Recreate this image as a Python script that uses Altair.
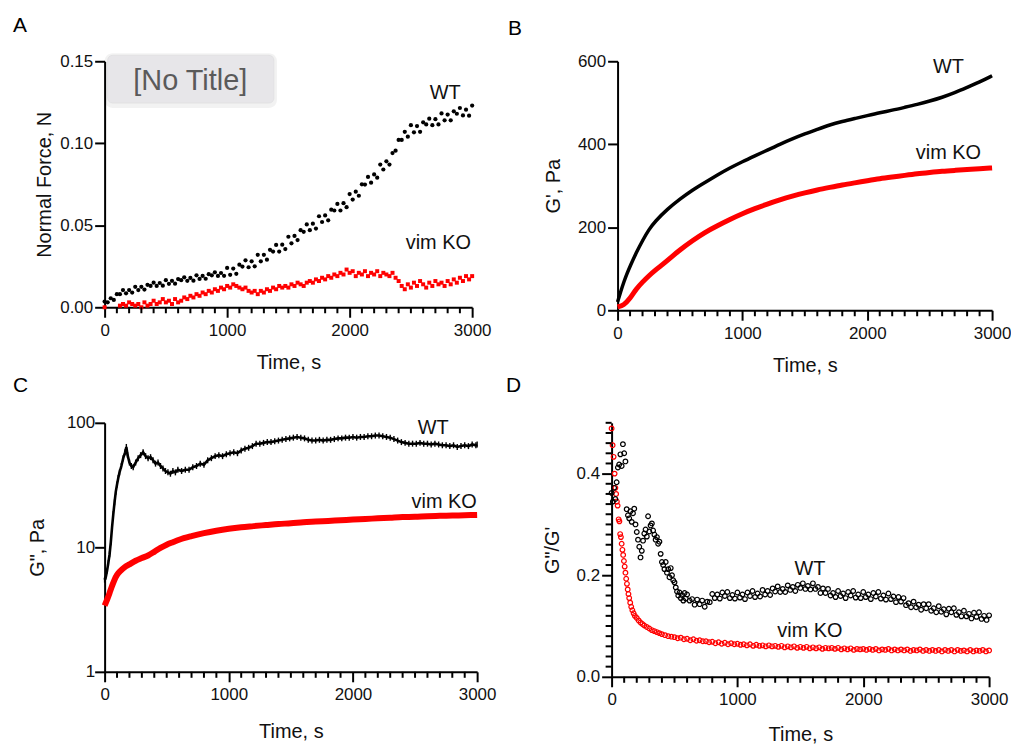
import altair as alt
import pandas as pd

FONT = "Liberation Sans"
RED = "#ff0000"
BLACK = "#000000"

# ---------------- Panel A : Normal force (N) ----------------
A_T = list(range(0, 3001, 25))
A_WT = [
    0.0035, 0.0030, 0.0055, 0.0045, 0.0080, 0.0080, 0.0105, 0.0085, 0.0105, 0.0090,
    0.0125, 0.0105, 0.0125, 0.0108, 0.0137, 0.0130, 0.0150, 0.0130, 0.0148, 0.0132,
    0.0165, 0.0143, 0.0161, 0.0144, 0.0172, 0.0165, 0.0183, 0.0161, 0.0179, 0.0162,
    0.0195, 0.0173, 0.0191, 0.0174, 0.0202, 0.0195, 0.0213, 0.0191, 0.0209, 0.0192,
    0.0240, 0.0198, 0.0236, 0.0204, 0.0260, 0.0248, 0.0286, 0.0244, 0.0280, 0.0250,
    0.0320, 0.0280, 0.0320, 0.0290, 0.0350, 0.0340, 0.0380, 0.0340, 0.0382, 0.0355,
    0.0430, 0.0390, 0.0435, 0.0410, 0.0470, 0.0460, 0.0505, 0.0470, 0.0510, 0.0480,
    0.0555, 0.0520, 0.0560, 0.0530, 0.0595, 0.0590, 0.0630, 0.0590, 0.0635, 0.0610,
    0.0690, 0.0657, 0.0705, 0.0680, 0.0750, 0.0748, 0.0795, 0.0760, 0.0810, 0.0790,
    0.0870, 0.0840, 0.0890, 0.0870, 0.0940, 0.0955, 0.1020, 0.1020, 0.1070, 0.1040,
    0.1110, 0.1067, 0.1105, 0.1070, 0.1128, 0.1115, 0.1150, 0.1110, 0.1147, 0.1115,
    0.1182, 0.1140, 0.1175, 0.1140, 0.1195, 0.1180, 0.1215, 0.1170, 0.1205, 0.1168,
    0.1230,
]
A_KO = [
    0.000, None, None, None, None, 0.001, 0.002, 0.001, 0.003, 0.002,
    0.001, 0.002, 0.000, 0.003, 0.001, 0.002, 0.004, 0.002, 0.003, 0.005,
    0.003, 0.004, 0.002, 0.005, 0.003, 0.004, 0.006, 0.005, 0.007, 0.006,
    0.008, 0.007, 0.009, 0.008, 0.010, 0.009, 0.011, 0.010, 0.012, 0.011,
    0.013, 0.012, 0.014, 0.013, 0.012, 0.011, 0.012, 0.010, 0.009, 0.010,
    0.008, 0.010, 0.009, 0.011, 0.010, 0.012, 0.011, 0.013, 0.012, 0.013,
    0.012, 0.014, 0.013, 0.015, 0.014, 0.013, 0.015, 0.016, 0.015, 0.017,
    0.016, 0.018, 0.017, 0.019, 0.018, 0.020, 0.019, 0.021, 0.020, 0.023,
    0.021, 0.022, 0.019, 0.021, 0.020, 0.022, 0.019, 0.021, 0.020, 0.022,
    0.019, 0.021, 0.020, 0.019, 0.021, 0.018, 0.016, 0.013, 0.011, 0.014,
    0.012, 0.015, 0.013, 0.016, 0.014, 0.012, 0.015, 0.013, 0.016, 0.014,
    0.015, 0.013, 0.016, 0.014, 0.017, 0.015, 0.018, 0.016, 0.019, 0.017,
    0.019,
]

# ---------------- Panel B : G' (Pa) ----------------
B_WT = [(0, 20), (25, 45), (50, 68), (75, 88), (100, 106), (150, 139), (200, 168),
        (250, 194), (300, 214), (400, 244), (500, 268), (600, 290), (700, 308),
        (800, 326), (900, 343), (1000, 358), (1100, 372), (1200, 386), (1300, 400),
        (1400, 413), (1500, 425), (1600, 436), (1700, 447), (1800, 455), (1900, 462),
        (2000, 469), (2100, 476), (2200, 482), (2300, 489), (2400, 496), (2500, 504),
        (2600, 513), (2700, 524), (2800, 537), (2900, 550), (3000, 565)]
B_KO = [(0, 8), (50, 12), (100, 28), (150, 52), (200, 68), (250, 83), (300, 96),
        (400, 120), (500, 146), (600, 168), (700, 188), (800, 204), (900, 219),
        (1000, 233), (1100, 245), (1200, 256), (1300, 266), (1400, 275), (1500, 283),
        (1600, 290), (1700, 296), (1800, 302), (1900, 307), (2000, 312), (2100, 317),
        (2200, 321), (2300, 325), (2400, 329), (2500, 332), (2600, 335), (2700, 337),
        (2800, 339), (2900, 341), (3000, 343)]

# ---------------- Panel C : G'' (Pa), log ----------------
C_WT = [(0, 5.5), (10, 5.8), (20, 6.5), (30, 7.5), (40, 8.8), (50, 11), (60, 14.5),
        (70, 18.5), (80, 23), (90, 28), (100, 32), (110, 36), (120, 40), (135, 45),
        (150, 52), (165, 58), (175, 64), (185, 55), (200, 48), (215, 45), (230, 44),
        (250, 48), (270, 52), (290, 55), (310, 58), (330, 54), (350, 52), (370, 53),
        (390, 50), (410, 47), (430, 48), (450, 45), (470, 43), (490, 41), (510, 40),
        (530, 39), (550, 41), (570, 40), (590, 42), (620, 41), (650, 42), (680, 42),
        (710, 44), (740, 45), (770, 47), (800, 46), (830, 50), (860, 52), (890, 54),
        (920, 55), (950, 54), (980, 56), (1010, 57), (1040, 58), (1070, 57), (1100, 60),
        (1130, 62), (1160, 63), (1190, 65), (1220, 68), (1250, 68), (1280, 69),
        (1310, 70), (1340, 70), (1370, 71), (1400, 72), (1430, 73), (1460, 74),
        (1490, 75), (1520, 76), (1550, 77), (1580, 76), (1610, 75), (1640, 73),
        (1670, 72), (1700, 72), (1730, 73), (1760, 72), (1790, 73), (1820, 73),
        (1850, 74), (1880, 75), (1910, 75), (1940, 76), (1970, 76), (2000, 77),
        (2030, 76), (2060, 77), (2090, 77), (2120, 78), (2150, 78), (2180, 79),
        (2210, 79), (2240, 78), (2270, 77), (2300, 76), (2330, 74), (2360, 72),
        (2390, 70), (2420, 69), (2450, 68), (2480, 68), (2510, 68), (2540, 69),
        (2570, 68), (2600, 68), (2630, 67), (2660, 68), (2690, 67), (2720, 66),
        (2750, 66), (2780, 65), (2810, 66), (2840, 64), (2870, 65), (2900, 66),
        (2930, 65), (2960, 67), (2990, 66), (3000, 67)]
C_KO = [(0, 3.4), (20, 3.8), (40, 4.3), (60, 4.9), (80, 5.5), (100, 6.0), (130, 6.5),
        (160, 6.9), (200, 7.3), (250, 7.8), (300, 8.2), (350, 8.6), (400, 9.2),
        (450, 9.9), (500, 10.5), (550, 11.0), (600, 11.5), (700, 12.3), (800, 13.0),
        (900, 13.6), (1000, 14.1), (1100, 14.5), (1200, 14.8), (1300, 15.1),
        (1400, 15.4), (1500, 15.6), (1600, 15.9), (1700, 16.1), (1800, 16.3),
        (1900, 16.5), (2000, 16.7), (2100, 16.9), (2200, 17.1), (2300, 17.3),
        (2400, 17.5), (2500, 17.6), (2600, 17.8), (2700, 17.9), (2800, 18.0),
        (2900, 18.1), (3000, 18.2)]

# ---------------- Panel D : G''/G' ----------------
D_WT_T = list(range(0, 600, 10)) + list(range(600, 3001, 20))
D_WT = [
    0.362, 0.345, 0.372, 0.350, 0.383, 0.412, 0.418, 0.438, 0.415, 0.458,
    0.440, 0.424, 0.330, 0.318, 0.312, 0.326, 0.305, 0.322, 0.331, 0.300,
    0.285, 0.270, 0.256, 0.235, 0.248, 0.268, 0.282, 0.290, 0.276, 0.316,
    0.286, 0.298, 0.302, 0.288, 0.280, 0.270, 0.275, 0.262, 0.266, 0.242,
    0.226, 0.220, 0.212, 0.226, 0.205, 0.212, 0.196, 0.214, 0.200, 0.190,
    0.186, 0.176, 0.168, 0.160, 0.166, 0.155, 0.161, 0.150, 0.165, 0.154,
    0.162, 0.150, 0.153, 0.142, 0.152, 0.143, 0.150, 0.138, 0.148, 0.147,
    0.163, 0.155, 0.162, 0.154, 0.166, 0.159, 0.167, 0.155, 0.161, 0.154,
    0.166, 0.156, 0.162, 0.153, 0.166, 0.159, 0.169, 0.157, 0.164, 0.158,
    0.171, 0.162, 0.169, 0.161, 0.174, 0.168, 0.178, 0.167, 0.173, 0.167,
    0.180, 0.171, 0.177, 0.169, 0.181, 0.175, 0.184, 0.173, 0.179, 0.172,
    0.184, 0.173, 0.177, 0.165, 0.174, 0.165, 0.173, 0.160, 0.165, 0.157,
    0.169, 0.159, 0.164, 0.155, 0.167, 0.160, 0.169, 0.156, 0.162, 0.155,
    0.167, 0.157, 0.162, 0.153, 0.165, 0.158, 0.167, 0.154, 0.160, 0.152,
    0.164, 0.153, 0.158, 0.147, 0.157, 0.148, 0.155, 0.141, 0.145, 0.137,
    0.148, 0.137, 0.142, 0.132, 0.143, 0.135, 0.143, 0.130, 0.135, 0.127,
    0.139, 0.128, 0.133, 0.123, 0.134, 0.127, 0.135, 0.122, 0.127, 0.119,
    0.130, 0.119, 0.124, 0.115, 0.126, 0.118, 0.127, 0.114, 0.120, 0.112,
    0.121,
]
D_KO_T = [0, 8, 16, 24, 30, 36, 42, 48, 56, 62,
          68, 74, 80, 86, 92, 98, 104, 110, 116, 122,
          128, 134, 140, 148, 156, 165, 175, 185, 200, 215,
          230, 245, 260, 280, 300, 320, 340, 360, 380, 400,
          425, 450, 475] + list(range(500, 3001, 25))
D_KO = [
    0.489, 0.456, 0.433, 0.400, 0.372, 0.360, 0.345, 0.337, 0.310, 0.306,
    0.281, 0.275, 0.262, 0.250, 0.240, 0.228, 0.217, 0.205, 0.193, 0.183,
    0.172, 0.163, 0.155, 0.146, 0.138, 0.131, 0.125, 0.120, 0.116, 0.111,
    0.107, 0.104, 0.101, 0.098, 0.095, 0.092, 0.090, 0.088, 0.086, 0.084,
    0.082, 0.080, 0.079,
    0.078, 0.076, 0.077, 0.074, 0.075, 0.072, 0.074, 0.071, 0.072, 0.070,
    0.070, 0.068, 0.069, 0.066, 0.068, 0.065, 0.067, 0.064, 0.066, 0.064,
    0.065, 0.063, 0.064, 0.062, 0.064, 0.061, 0.063, 0.061, 0.062, 0.060,
    0.062, 0.060, 0.061, 0.059, 0.061, 0.058, 0.060, 0.058, 0.060, 0.057,
    0.059, 0.057, 0.059, 0.056, 0.058, 0.056, 0.058, 0.055, 0.057, 0.056,
    0.057, 0.055, 0.057, 0.054, 0.056, 0.054, 0.056, 0.053, 0.055, 0.054,
    0.055, 0.053, 0.055, 0.053, 0.055, 0.052, 0.054, 0.053, 0.055, 0.052,
    0.054, 0.052, 0.054, 0.052, 0.054, 0.051, 0.053, 0.052, 0.054, 0.051,
    0.053, 0.051, 0.053, 0.051, 0.053, 0.050, 0.053, 0.051, 0.053, 0.050,
    0.053, 0.051, 0.052, 0.050, 0.053, 0.050, 0.052, 0.051, 0.053, 0.050,
    0.052,
]

# annotation labels (data coordinates)
A_LABELS = [("WT", 2780, 0.1306), ("vim KO", 2724, 0.0389)]
B_LABELS = [("WT", 2650, 585), ("vim KO", 2650, 379)]
C_LABELS = [("WT", 2646, 91), ("vim KO", 2735, 23.3)]
D_LABELS = [("WT", 1576, 0.212), ("vim KO", 1576, 0.090)]

# axis tick values
X_MAJOR = [0, 1000, 2000, 3000]
X_MINOR = [v for v in range(0, 3001, 100) if v % 1000 != 0]
D_MAJOR = [0.0, 0.2, 0.4]
D_MINOR = [round(i * 0.02, 2) for i in range(26) if i % 10 != 0]


def frame(ts, vs):
    return pd.DataFrame([{"t": t, "v": v} for t, v in zip(ts, vs)])


def pairs(p):
    return pd.DataFrame([{"t": t, "v": v} for t, v in p])


def labels_df(lst):
    return pd.DataFrame([{"label": s, "t": t, "v": v} for s, t, v in lst])


def xs():
    return alt.Scale(domain=[0, 3000], nice=False, zero=False)


def x_major(title_pad):
    return alt.X("t:Q", scale=xs(), axis=alt.Axis(
        title="Time, s", values=X_MAJOR, format="d", orient="bottom",
        tickSize=10, labelPadding=5, titlePadding=title_pad, labelFlush=False))


def x_none():
    return alt.X("t:Q", scale=xs(), axis=None)


def y_major(scale, title, values, fmt, title_x, h, label_pad=2):
    return alt.Y("v:Q", scale=scale, axis=alt.Axis(
        title=title, values=values, format=fmt, orient="left", tickSize=10,
        labelPadding=label_pad, titleX=title_x, titleY=h / 2,
        titleBaseline="middle", titleAngle=270))


def x_minor_ticks(h):
    # short ticks every 100 s under the x axis line, placed through the x scale
    return alt.Chart(pd.DataFrame({"t": X_MINOR})).mark_rule(
        color=BLACK, strokeWidth=2
    ).encode(x=x_none(), y=alt.value(h), y2=alt.value(h + 6))


def text_layer(df, scale):
    return alt.Chart(df).mark_text(font=FONT, fontSize=20, color="#111111",
                                   align="center", baseline="middle").encode(
        x=x_none(),
        y=alt.Y("v:Q", scale=scale, axis=None),
        text="label:N",
    )


def letter(ch, dx, dy):
    return alt.Chart(alt.Data(values=[{}])).mark_text(
        text=ch, font=FONT, fontSize=21, color="#000000", align="left", baseline="top"
    ).encode(x=alt.value(dx), y=alt.value(dy))


# ---------- A ----------
HA, WA = 247, 369
ya_scale = alt.Scale(domain=[0, 0.15], nice=False)
a_wt = alt.Chart(frame(A_T, A_WT)).mark_circle(size=18, color=BLACK, opacity=1).encode(
    x=x_major(14),
    y=y_major(ya_scale, "Normal Force, N", [0, 0.05, 0.1, 0.15], ".2f", -60, HA))
a_ko = alt.Chart(frame(A_T, A_KO)).mark_square(size=16, color=RED, opacity=1).encode(
    x=x_none(), y=alt.Y("v:Q", scale=ya_scale, axis=None))
box_shadow = alt.Chart(alt.Data(values=[{}])).mark_rect(
    color="#000000", opacity=0.05, cornerRadius=8).encode(
    x=alt.value(0), x2=alt.value(173), y=alt.value(-8), y2=alt.value(47))
box = alt.Chart(alt.Data(values=[{}])).mark_rect(
    color="#e7e6e9", stroke="#d8d8da", strokeWidth=0.5, cornerRadius=5).encode(
    x=alt.value(3), x2=alt.value(170), y=alt.value(-6), y2=alt.value(42))
box_text = alt.Chart(alt.Data(values=[{}])).mark_text(
    text="[No Title]", font=FONT, fontSize=29, color="#5a5a5a",
    align="center", baseline="middle").encode(x=alt.value(86), y=alt.value(20))
panel_a = alt.layer(
    a_wt, a_ko, x_minor_ticks(HA), text_layer(labels_df(A_LABELS), ya_scale),
    box_shadow, box, box_text, letter("A", -92, -46)
).resolve_axis(x="independent", y="independent").properties(width=WA, height=HA)

# ---------- B ----------
HB, WB = 250, 376
yb_scale = alt.Scale(domain=[0, 600], nice=False)
b_wt = alt.Chart(pairs(B_WT)).mark_line(color=BLACK, strokeWidth=3.5, interpolate="basis").encode(
    x=x_major(14),
    y=y_major(yb_scale, "G',  Pa", [0, 200, 400, 600], "d", -64, HB))
b_ko = alt.Chart(pairs(B_KO)).mark_line(color=RED, strokeWidth=5, interpolate="basis").encode(
    x=x_none(), y=alt.Y("v:Q", scale=yb_scale, axis=None))
panel_b = alt.layer(
    b_wt, b_ko, x_minor_ticks(HB), text_layer(labels_df(B_LABELS), yb_scale),
    letter("B", -110, -43)
).resolve_axis(x="independent", y="independent").properties(width=WB, height=HB)

# ---------- C ----------
HC, WC = 250, 374
yc_scale = alt.Scale(type="log", domain=[1, 100], nice=False)
c_ko = alt.Chart(pairs(C_KO)).mark_line(color=RED, strokeWidth=6, interpolate="monotone").encode(
    x=x_major(19),
    y=y_major(yc_scale, 'G",  Pa', [1, 10, 100], "d", -67, HC, label_pad=0))
c_wt = alt.Chart(pairs(C_WT)).mark_line(color=BLACK, strokeWidth=2.6).encode(
    x=x_none(), y=alt.Y("v:Q", scale=yc_scale, axis=None))
c_wt_bars = alt.Chart(pairs(C_WT)).mark_point(
    shape="M0,-1L0,1", size=36, color=BLACK, strokeWidth=1.4, opacity=1).encode(
    x=x_none(), y=alt.Y("v:Q", scale=yc_scale, axis=None))
panel_c = alt.layer(
    c_ko, c_wt, c_wt_bars, x_minor_ticks(HC), text_layer(labels_df(C_LABELS), yc_scale),
    letter("C", -92, -48)
).resolve_axis(x="independent", y="independent").properties(width=WC, height=HC)

# ---------- D ----------
HD, WD = 255, 379
yd_scale = alt.Scale(domain=[0, 0.5], nice=False)
d_ko = alt.Chart(frame(D_KO_T, D_KO)).mark_point(
    size=22, color=RED, strokeWidth=1.2, filled=False, opacity=1).encode(
    x=x_major(17),
    y=y_major(yd_scale, 'G"/G\'', D_MAJOR, ".1f", -59, HD))
d_wt = alt.Chart(frame(D_WT_T, D_WT)).mark_point(
    size=22, color=BLACK, strokeWidth=1.2, filled=False, opacity=1).encode(
    x=x_none(), y=alt.Y("v:Q", scale=yd_scale, axis=None))
d_yminor = alt.Chart(pd.DataFrame({"v": D_MINOR})).mark_rule(
    color=BLACK, strokeWidth=2
).encode(y=alt.Y("v:Q", scale=yd_scale, axis=None), x=alt.value(-6), x2=alt.value(0))
panel_d = alt.layer(
    d_ko, d_wt, x_minor_ticks(HD), d_yminor, text_layer(labels_df(D_LABELS), yd_scale),
    letter("D", -106, -48)
).resolve_axis(x="independent", y="independent").properties(width=WD, height=HD)

chart = alt.vconcat(
    alt.hconcat(panel_a, panel_b, spacing=17),
    alt.hconcat(panel_c, panel_d, spacing=10),
    spacing=0,
).properties(
    padding={"left": 5, "top": 6, "right": 0, "bottom": 0}
).configure_view(
    strokeWidth=0
).configure_axis(
    grid=False,
    domainColor=BLACK,
    domainWidth=2,
    tickColor=BLACK,
    tickWidth=2,
    labelFont=FONT,
    labelFontSize=17,
    labelColor="#111111",
    titleFont=FONT,
    titleFontSize=20,
    titleFontWeight="normal",
    titleColor="#111111",
)

chart.save("out.html", embed_options={"renderer": "svg", "actions": False})
